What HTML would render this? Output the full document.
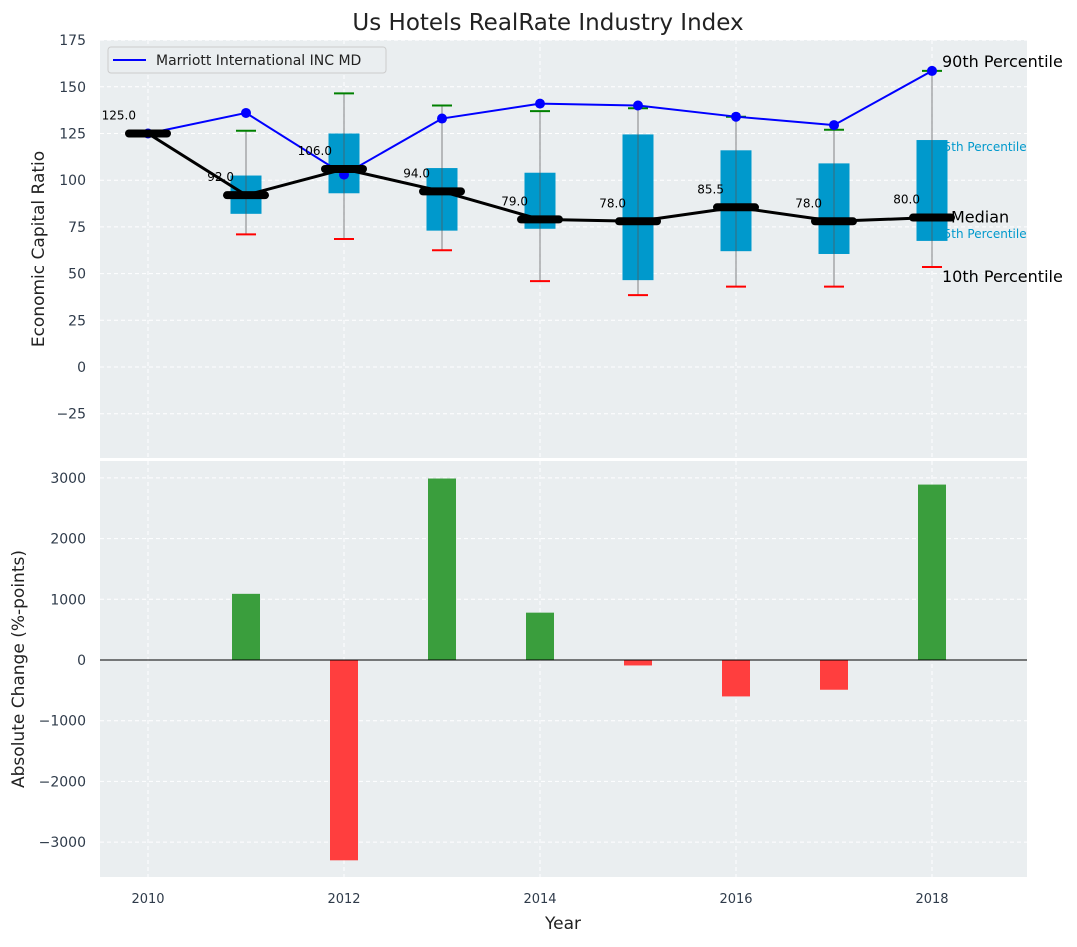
<!DOCTYPE html>
<html><head><meta charset="utf-8"><style>
body{margin:0;background:#fff;}
svg text{font-family:"DejaVu Sans","Liberation Sans",sans-serif;}
</style></head><body>
<svg id="c" width="1077" height="942" xmlns="http://www.w3.org/2000/svg">
<text x="548" y="30" font-size="23" text-anchor="middle" fill="#222">Us Hotels RealRate Industry Index</text>
<rect x="100" y="40" width="927" height="418" fill="#eaeef0"/>
<rect x="100" y="461" width="927" height="416" fill="#eaeef0"/>
<g id="g"></g>
<text transform="translate(44,249) rotate(-90)" font-size="17" text-anchor="middle" fill="#222">Economic Capital Ratio</text>
<text transform="translate(24,669) rotate(-90)" font-size="17" text-anchor="middle" fill="#222">Absolute Change (%-points)</text>
<text x="563" y="929" font-size="17" text-anchor="middle" fill="#222">Year</text>
<g>
<rect x="108" y="47" width="278" height="26" rx="3" fill="#eaeef0" stroke="#ccc"/>
<line x1="113" y1="60" x2="146" y2="60" stroke="#0000ff" stroke-width="2"/>
<text x="156" y="65" font-size="14" fill="#222">Marriott International INC MD</text>
</g>
</svg>
<script>
const years=[2010,2011,2012,2013,2014,2015,2016,2017,2018];
const medians=[125,92,106,94,79,78,85.5,78,80];
const q1=[null,82,93,73,74,46.5,62,60.5,67.5];
const q3=[null,102.5,125,106.5,104,124.5,116,109,121.5];
const p10=[null,71,68.5,62.5,46,38.5,43,43,53.5];
const p90=[null,126.5,146.5,140,137,138.5,134,127,158.5];
const marriott=[125,136,103,133,141,140,134,129.5,158.5];
const changes=[null,1090,-3300,2990,780,-90,-600,-490,2890];
const topTicks=[-25,0,25,50,75,100,125,150,175];
const botTicks=[-3000,-2000,-1000,0,1000,2000,3000];
const xTicks=[2010,2012,2014,2016,2018];

const X=v=>148+(v-2010)*98;
const Y=v=>367-v*1.868;
const Yb=v=>660-v*0.0607;
const g=document.getElementById('g');
const NS='http://www.w3.org/2000/svg';
function mk(t,a,p){const e=document.createElementNS(NS,t);for(const k in a)e.setAttribute(k,a[k]);(p||g).appendChild(e);return e;}
topTicks.forEach(t=>{mk('line',{x1:100,x2:1027,y1:Y(t),y2:Y(t),stroke:'#fff','stroke-dasharray':'4,3','stroke-width':1});
 const e=mk('text',{x:86,y:Y(t)+5,'font-size':14,'text-anchor':'end',fill:'#2f3b4a'});e.textContent=t===-25?'\u221225':t;
 
 });
botTicks.forEach(t=>{mk('line',{x1:100,x2:1027,y1:Yb(t),y2:Yb(t),stroke:'#fff','stroke-dasharray':'4,3','stroke-width':1});
 const e=mk('text',{x:86,y:Yb(t)+5,'font-size':14,'text-anchor':'end',fill:'#2f3b4a'});e.textContent=t<0?'\u2212'+(-t):t;
 
 });
xTicks.forEach(t=>{mk('line',{x1:X(t),x2:X(t),y1:40,y2:458,stroke:'#fff','stroke-dasharray':'4,3'});
 mk('line',{x1:X(t),x2:X(t),y1:461,y2:877,stroke:'#fff','stroke-dasharray':'4,3'});
 const e=mk('text',{x:X(t),y:903,'font-size':13,'text-anchor':'middle',fill:'#2f3b4a'});e.textContent=t;
 
 });
// annotations under boxes
const L=years.length-1,lx=X(years[L]);
[[lx+10,Y(p90[L])-4,'90th Percentile',16,'#000'],[lx+4,Y(q3[L])+11,'75th Percentile',12,'#0099cc'],
 [lx+19,Y(medians[L])+5,'Median',16,'#000'],[lx+4,Y(q1[L])-3,'25th Percentile',12,'#0099cc'],
 [lx+10,Y(p10[L])+15,'10th Percentile',16,'#000']].forEach(a=>{
 const t=mk('text',{x:a[0],y:a[1],'font-size':a[3],fill:a[4]});t.textContent=a[2];
 
 });
years.forEach((yr,i)=>{
 if(q1[i]==null)return;
 const b=mk('rect',{x:X(yr)-15.5,y:Y(q3[i]),width:31,height:Y(q1[i])-Y(q3[i]),fill:'#0099cc'});
 
 
 mk('line',{x1:X(yr),x2:X(yr),y1:Y(p90[i]),y2:Y(p10[i]),stroke:'#555','stroke-width':1,opacity:0.7});
 mk('line',{x1:X(yr)-10,x2:X(yr)+10,y1:Y(p90[i]),y2:Y(p90[i]),stroke:'green','stroke-width':2});
 mk('line',{x1:X(yr)-10,x2:X(yr)+10,y1:Y(p10[i]),y2:Y(p10[i]),stroke:'red','stroke-width':2});
});
const mp=mk('polyline',{points:years.map((y,i)=>X(y)+','+Y(marriott[i])).join(' '),fill:'none',stroke:'#0000ff','stroke-width':2});


years.forEach((y,i)=>{const c=mk('circle',{cx:X(y),cy:Y(marriott[i]),r:5,fill:'#0000ff'});
 
 });
const ml=mk('polyline',{points:years.map((y,i)=>X(y)+','+Y(medians[i])).join(' '),fill:'none',stroke:'#000','stroke-width':3});


years.forEach((y,i)=>{
 const m=mk('line',{x1:X(y)-19,x2:X(y)+19,y1:Y(medians[i]),y2:Y(medians[i]),stroke:'#000','stroke-width':8,'stroke-linecap':'round'});
 
 
 const t=mk('text',{x:X(y)-12,y:Y(medians[i])-14,'font-size':12,'text-anchor':'end',fill:'#000'});
 t.textContent=medians[i].toFixed(1);
 
 
});
years.forEach((y,i)=>{
 if(changes[i]==null)return;
 const v=changes[i];
 const r=mk('rect',{x:X(y)-14,y:Math.min(Yb(v),Yb(0)),width:28,height:Math.abs(Yb(v)-Yb(0)),fill:v>=0?'#3a9e3d':'#ff3e3e'});
 
 
});
mk('line',{x1:100,x2:1027,y1:Yb(0),y2:Yb(0),stroke:'#000','stroke-width':1});
</script>
</body></html>
